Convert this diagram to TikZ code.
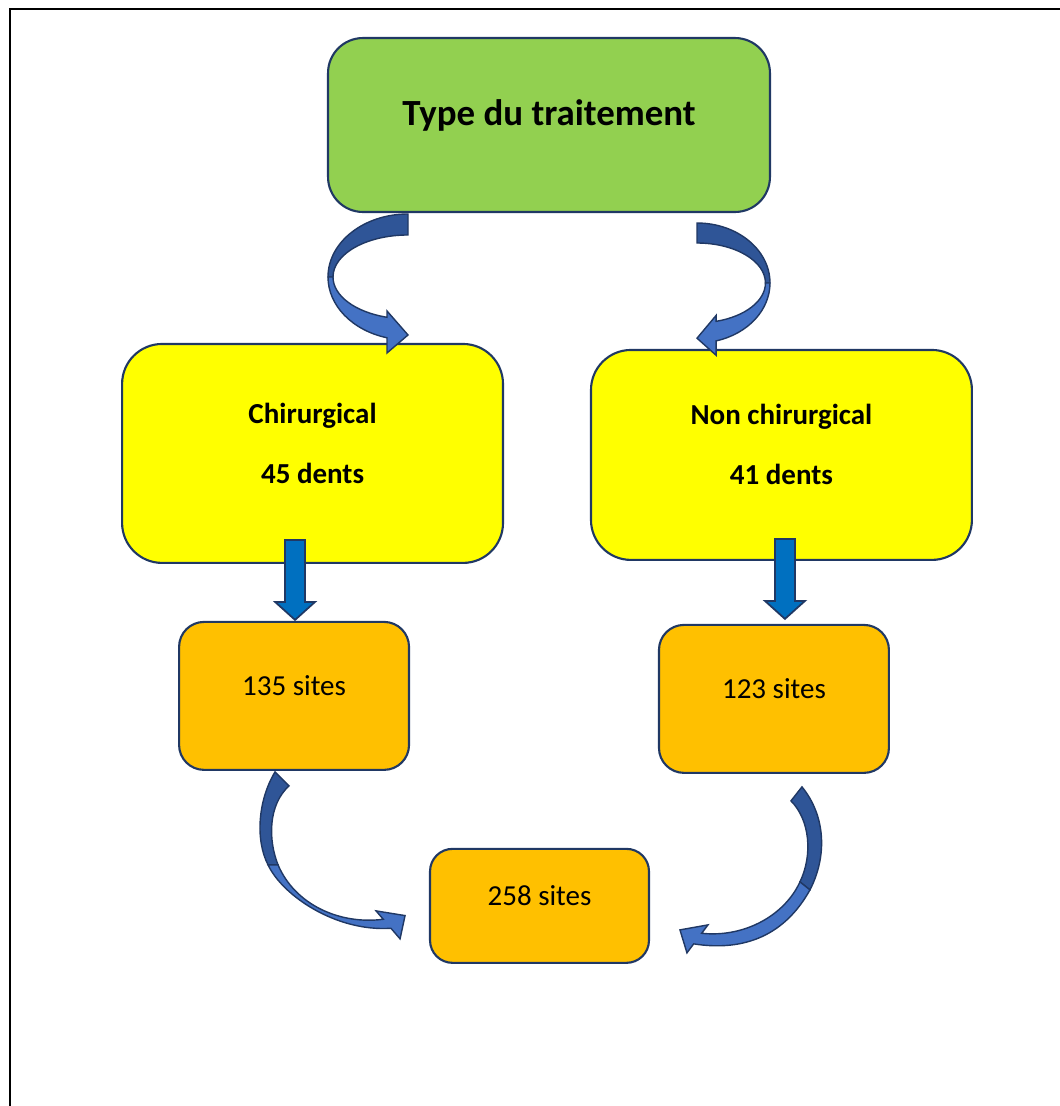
\documentclass[tikz,border=0pt]{standalone}
\usepackage{fontspec}
\setmainfont{Carlito}
\usetikzlibrary{positioning,calc}

\definecolor{boxline}{RGB}{32,56,100}
\definecolor{lgreen}{RGB}{146,208,80}
\definecolor{lyellow}{RGB}{255,255,0}
\definecolor{lorange}{RGB}{255,192,0}
\definecolor{dkblue}{RGB}{47,85,151}
\definecolor{ltblue}{RGB}{68,114,196}
\definecolor{arrblue}{RGB}{0,112,192}

\newcommand{\padtop}{\rule{0pt}{7mm}}
\newcommand{\padbot}{\rule[-7mm]{0pt}{7mm}}

\begin{document}
\begin{tikzpicture}[
    x=0.02cm, y=-0.02cm,
    box/.style={rectangle, draw=boxline, line width=1.2pt, outer sep=0pt, align=center},
    titletext/.style={font=\fontsize{21}{25}\selectfont\bfseries},
    boldtext/.style={font=\fontsize{16.5}{34.1}\selectfont\bfseries},
    plaintext/.style={font=\fontsize{16.5}{20}\selectfont},
    dnarrow/.style={draw=boxline, line width=1pt, fill=arrblue, line join=miter},
    backside/.style={draw=boxline, line width=0.8pt, fill=dkblue},
    frontside/.style={draw=boxline, line width=0.8pt, fill=ltblue},
    curl/.pic={
        \draw[backside] (0,-63) .. controls (-44.2,-63) and (-80,-34.8) .. (-80,0) -- (-75,0) .. controls (-75,-23.2) and (-41.4,-42) .. (0,-42) -- cycle;
        \draw[frontside] (-80,0) .. controls (-80,28.4) and (-55.8,53.4) .. (-21,60.8) -- (-21,76) -- (0,58) -- (-21,34) -- (-21,40.3) .. controls (-53,35.1) and (-75,18.7) .. (-75,0) -- cycle;
    }
]
    \useasboundingbox (0,0) rectangle (1059,1106);
    \draw[line width=1.2pt] (1070,9) -- (10,9) -- (10,1120);

    \node[box, titletext, fill=lgreen, rounded corners=0.7cm, minimum width=8.84cm, minimum height=3.48cm] (type) at (549,125) {\padtop Type du traitement\padbot};
    \node[box, boldtext, fill=lyellow, rounded corners=0.8cm, minimum width=7.62cm, minimum height=4.38cm, below=2.64cm of type, xshift=-4.73cm] (chir) {\padtop Chirurgical\\45 dents\padbot};
    \node[box, boldtext, fill=lyellow, rounded corners=0.8cm, minimum width=7.62cm, minimum height=4.2cm, below=2.76cm of type, xshift=4.65cm] (nonchir) {\padtop Non chirurgical\\41 dents\padbot};
    \node[box, plaintext, fill=lorange, rounded corners=0.5cm, minimum width=4.6cm, minimum height=2.96cm, below=1.18cm of chir, xshift=-0.37cm] (s135) {\padtop 135 sites\padbot};
    \node[box, plaintext, fill=lorange, rounded corners=0.5cm, minimum width=4.6cm, minimum height=2.96cm, below=1.3cm of nonchir, xshift=-0.15cm] (s123) {\padtop 123 sites\padbot};
    \node[box, plaintext, fill=lorange, rounded corners=0.45cm, minimum width=4.38cm, minimum height=2.28cm, below=1.58cm of s135, xshift=4.91cm] (s258) {\padtop 258 sites\padbot};

    \pic at ([shift={(-141,65)}]type.south) {curl};
    \pic[xscale=-0.9125, yscale=0.952] at ([shift={(148,71)}]type.south) {curl};

    \draw[dnarrow] ([shift={(1,-2)}]s135.north) -- ++(-20,-18) -- ++(10,0) -- ++(0,-62) -- ++(20,0) -- ++(0,62) -- ++(10,0) -- cycle;
    \draw[dnarrow] ([shift={(11,-6)}]s123.north) -- ++(-20,-18) -- ++(10,0) -- ++(0,-62) -- ++(20,0) -- ++(0,62) -- ++(10,0) -- cycle;

    \begin{scope}[shift={(s135.south)}]
        \draw[backside] (-19,2) .. controls (-36,30) and (-39,70) .. (-26,95) -- (-16,95) .. controls (-26,70) and (-26,35) .. (-5,16) -- cycle;
        \draw[frontside] (-26,95) .. controls (-12,125) and (41,162) .. (96.9,158.4) -- (106,169) -- (111,145.7) -- (82,141) -- (89.2,149.4) .. controls (46,155) and (1,135) .. (-16,95) -- cycle;
    \end{scope}
    \begin{scope}[shift={(s123.south)}]
        \draw[backside] (28,14) .. controls (51,42) and (54,82) .. (36,117) -- (26,109) .. controls (39,82) and (36,47) .. (17,28) -- cycle;
        \draw[frontside] (36,117) .. controls (11,162) and (-29,179) .. (-80.3,171) -- (-87,180) -- (-94,157) -- (-66,152) -- (-72.3,160.4) .. controls (-29,165) and (11,142) .. (26,109) -- cycle;
    \end{scope}
\end{tikzpicture}
\end{document}
